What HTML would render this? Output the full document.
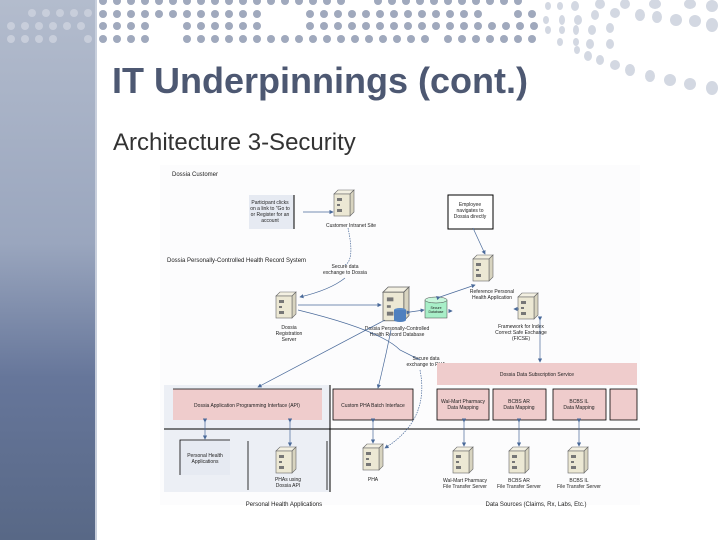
<!DOCTYPE html>
<html><head><meta charset="utf-8"><style>
html,body{margin:0;padding:0;width:720px;height:540px;overflow:hidden;background:#fff}
svg{display:block}
</style></head><body>
<svg width="720" height="540" viewBox="0 0 720 540" xmlns="http://www.w3.org/2000/svg" font-family="Liberation Sans, sans-serif">
<defs>
<linearGradient id="sb" x1="0" y1="0" x2="0" y2="1">
<stop offset="0" stop-color="#b3bccd"/><stop offset="0.45" stop-color="#9aa6be"/><stop offset="0.7" stop-color="#66769a"/><stop offset="1" stop-color="#586886"/>
</linearGradient>
<g id="srv">
<path d="M0 4 L4 0 L20 0 L16 4 Z" fill="#f3f0e2" stroke="#666" stroke-width="0.6"/>
<path d="M16 4 L20 0 L20 22 L16 26 Z" fill="#d8d4c0" stroke="#666" stroke-width="0.6"/>
<rect x="0" y="4" width="16" height="22" fill="#ece8d4" stroke="#666" stroke-width="0.6"/>
<rect x="3" y="8" width="5" height="3" fill="#777"/><rect x="3" y="14" width="3" height="2" fill="#777"/><rect x="3" y="19" width="5" height="3" fill="#777"/>
</g>
<marker id="ar" markerWidth="6" markerHeight="6" refX="5" refY="3" orient="auto"><path d="M0 0 L6 3 L0 6 Z" fill="#4a6a9a"/></marker>
</defs>
<rect x="0" y="0" width="95" height="540" fill="url(#sb)"/>
<rect x="95" y="0" width="2" height="540" fill="#c8cfdc"/>
<g fill="#c8cedb">
<circle cx="11" cy="26" r="4"/><circle cx="25" cy="26" r="4"/><circle cx="39" cy="26" r="4"/><circle cx="53" cy="26" r="4"/><circle cx="67" cy="26" r="4"/><circle cx="81" cy="26" r="4"/>
<circle cx="32" cy="13" r="4"/><circle cx="46" cy="13" r="4"/><circle cx="60" cy="13" r="4"/><circle cx="74" cy="13" r="4"/><circle cx="88" cy="13" r="4"/>
<circle cx="11" cy="39" r="4"/><circle cx="25" cy="39" r="4"/><circle cx="39" cy="39" r="4"/><circle cx="53" cy="39" r="4"/><circle cx="88" cy="39" r="4"/>
</g>
<g fill="#a0a9bd" id="dots"></g>
<g fill="#a0a9bd">
<!-- row 1 -->
<g>
<circle cx="103" cy="1" r="4"/><circle cx="117" cy="1" r="4"/><circle cx="131" cy="1" r="4"/><circle cx="145" cy="1" r="4"/><circle cx="159" cy="1" r="4"/><circle cx="173" cy="1" r="4"/><circle cx="187" cy="1" r="4"/><circle cx="201" cy="1" r="4"/><circle cx="215" cy="1" r="4"/><circle cx="229" cy="1" r="4"/><circle cx="243" cy="1" r="4"/><circle cx="257" cy="1" r="4"/><circle cx="271" cy="1" r="4"/><circle cx="285" cy="1" r="4"/><circle cx="299" cy="1" r="4"/><circle cx="313" cy="1" r="4"/><circle cx="327" cy="1" r="4"/><circle cx="341" cy="1" r="4"/>
<circle cx="378" cy="1" r="4"/><circle cx="392" cy="1" r="4"/><circle cx="406" cy="1" r="4"/><circle cx="420" cy="1" r="4"/><circle cx="434" cy="1" r="4"/><circle cx="448" cy="1" r="4"/><circle cx="462" cy="1" r="4"/><circle cx="476" cy="1" r="4"/><circle cx="490" cy="1" r="4"/><circle cx="504" cy="1" r="4"/><circle cx="518" cy="1" r="4"/>
</g>
<!-- row 14 -->
<g>
<circle cx="103" cy="14" r="4"/><circle cx="117" cy="14" r="4"/><circle cx="131" cy="14" r="4"/><circle cx="145" cy="14" r="4"/><circle cx="159" cy="14" r="4"/><circle cx="173" cy="14" r="4"/><circle cx="187" cy="14" r="4"/><circle cx="201" cy="14" r="4"/><circle cx="215" cy="14" r="4"/><circle cx="229" cy="14" r="4"/><circle cx="243" cy="14" r="4"/><circle cx="257" cy="14" r="4"/>
<circle cx="310" cy="14" r="4"/><circle cx="324" cy="14" r="4"/><circle cx="338" cy="14" r="4"/><circle cx="352" cy="14" r="4"/><circle cx="366" cy="14" r="4"/><circle cx="380" cy="14" r="4"/><circle cx="394" cy="14" r="4"/><circle cx="408" cy="14" r="4"/><circle cx="422" cy="14" r="4"/><circle cx="436" cy="14" r="4"/><circle cx="450" cy="14" r="4"/><circle cx="464" cy="14" r="4"/><circle cx="478" cy="14" r="4"/>
<circle cx="518" cy="14" r="4"/><circle cx="532" cy="14" r="4"/>
</g>
<!-- row 26 -->
<g>
<circle cx="103" cy="26" r="4"/><circle cx="117" cy="26" r="4"/><circle cx="131" cy="26" r="4"/><circle cx="145" cy="26" r="4"/>
<circle cx="187" cy="26" r="4"/><circle cx="201" cy="26" r="4"/><circle cx="215" cy="26" r="4"/><circle cx="229" cy="26" r="4"/><circle cx="243" cy="26" r="4"/><circle cx="257" cy="26" r="4"/>
<circle cx="310" cy="26" r="4"/><circle cx="324" cy="26" r="4"/><circle cx="338" cy="26" r="4"/><circle cx="352" cy="26" r="4"/><circle cx="366" cy="26" r="4"/><circle cx="380" cy="26" r="4"/><circle cx="394" cy="26" r="4"/><circle cx="408" cy="26" r="4"/><circle cx="422" cy="26" r="4"/><circle cx="436" cy="26" r="4"/><circle cx="450" cy="26" r="4"/><circle cx="464" cy="26" r="4"/><circle cx="478" cy="26" r="4"/><circle cx="492" cy="26" r="4"/><circle cx="506" cy="26" r="4"/><circle cx="520" cy="26" r="4"/><circle cx="534" cy="26" r="4"/>
</g>
<!-- row 39 -->
<g>
<circle cx="103" cy="39" r="4"/><circle cx="117" cy="39" r="4"/><circle cx="131" cy="39" r="4"/><circle cx="145" cy="39" r="4"/>
<circle cx="187" cy="39" r="4"/><circle cx="201" cy="39" r="4"/><circle cx="215" cy="39" r="4"/><circle cx="229" cy="39" r="4"/><circle cx="243" cy="39" r="4"/><circle cx="257" cy="39" r="4"/><circle cx="271" cy="39" r="4"/><circle cx="285" cy="39" r="4"/><circle cx="299" cy="39" r="4"/><circle cx="313" cy="39" r="4"/><circle cx="327" cy="39" r="4"/><circle cx="341" cy="39" r="4"/><circle cx="355" cy="39" r="4"/><circle cx="369" cy="39" r="4"/><circle cx="383" cy="39" r="4"/><circle cx="397" cy="39" r="4"/><circle cx="411" cy="39" r="4"/><circle cx="425" cy="39" r="4"/>
<circle cx="448" cy="39" r="4"/><circle cx="462" cy="39" r="4"/><circle cx="476" cy="39" r="4"/><circle cx="490" cy="39" r="4"/><circle cx="504" cy="39" r="4"/><circle cx="518" cy="39" r="4"/><circle cx="532" cy="39" r="4"/>
</g>
</g>
<g fill="#d3d8e2">
<ellipse cx="548" cy="6" rx="3" ry="4"/><ellipse cx="560" cy="6" rx="3" ry="4"/><ellipse cx="575" cy="6" rx="4" ry="5"/><ellipse cx="600" cy="4" rx="5" ry="5"/><ellipse cx="625" cy="4" rx="5" ry="5"/><ellipse cx="655" cy="4" rx="6" ry="5"/><ellipse cx="690" cy="4" rx="6" ry="5"/><ellipse cx="712" cy="6" rx="6" ry="6"/>
<ellipse cx="546" cy="20" rx="3" ry="4"/><ellipse cx="562" cy="20" rx="3" ry="5"/><ellipse cx="578" cy="20" rx="4" ry="5"/><ellipse cx="595" cy="15" rx="4" ry="5"/><ellipse cx="615" cy="13" rx="5" ry="5"/><ellipse cx="640" cy="15" rx="5" ry="6"/><ellipse cx="657" cy="17" rx="5" ry="6"/><ellipse cx="676" cy="20" rx="6" ry="6"/><ellipse cx="695" cy="21" rx="6" ry="6"/><ellipse cx="712" cy="25" rx="6" ry="7"/>
<ellipse cx="548" cy="30" rx="3" ry="4"/><ellipse cx="562" cy="30" rx="3" ry="4"/><ellipse cx="576" cy="30" rx="3" ry="5"/><ellipse cx="592" cy="30" rx="4" ry="5"/><ellipse cx="610" cy="28" rx="4" ry="5"/>
<ellipse cx="560" cy="42" rx="3" ry="4"/><ellipse cx="576" cy="42" rx="3" ry="4"/><ellipse cx="590" cy="44" rx="4" ry="5"/><ellipse cx="610" cy="44" rx="4" ry="5"/>
<ellipse cx="577" cy="50" rx="3" ry="4"/><ellipse cx="588" cy="56" rx="4" ry="5"/><ellipse cx="600" cy="60" rx="4" ry="5"/><ellipse cx="615" cy="65" rx="5" ry="5"/><ellipse cx="630" cy="70" rx="5" ry="6"/><ellipse cx="650" cy="76" rx="5" ry="6"/><ellipse cx="670" cy="80" rx="6" ry="6"/><ellipse cx="690" cy="84" rx="6" ry="6"/><ellipse cx="712" cy="88" rx="6" ry="7"/>
</g>
<text x="112" y="93" font-size="36" font-weight="bold" fill="#4d5872">IT Underpinnings (cont.)</text>
<text x="113" y="150" font-size="24" fill="#333">Architecture 3-Security</text>

<!-- diagram -->
<rect x="160" y="165" width="480" height="340" fill="#fcfcfd"/>
<g font-size="5" fill="#222" text-anchor="middle">
<text x="172" y="176" font-size="6" text-anchor="start">Dossia Customer</text>
<rect x="249" y="195" width="45" height="34" fill="#e6eaf2"/><line x1="294" y1="195" x2="294" y2="229" stroke="#000" stroke-width="1"/>
<text x="270" y="204">Participant clicks</text><text x="270" y="210">on a link to "Go to</text><text x="270" y="216">or Register for an</text><text x="270" y="222">account</text>
<line x1="303" y1="212" x2="333" y2="212" stroke="#4a6a9a" stroke-width="0.7" marker-end="url(#ar)"/>
<use href="#srv" x="334" y="190"/>
<text x="351" y="227">Customer Intranet Site</text>
<rect x="448" y="195" width="45" height="34" fill="#fff" stroke="#000" stroke-width="1"/>
<text x="470" y="206">Employee</text><text x="470" y="212">navigates to</text><text x="470" y="218">Dossia directly</text>
<text x="167" y="262" font-size="6" text-anchor="start">Dossia Personally-Controlled Health Record System</text>
<text x="345" y="268">Secure data</text><text x="345" y="274">exchange to Dossia</text>
<use href="#srv" x="473" y="255"/>
<text x="492" y="293">Reference Personal</text><text x="492" y="299">Health Application</text>
<use href="#srv" x="276" y="292"/>
<text x="289" y="329">Dossia</text><text x="289" y="335">Registration</text><text x="289" y="341">Server</text>
<g transform="translate(383,287) scale(1.3)"><use href="#srv"/></g>
<ellipse cx="400" cy="310" rx="6" ry="2" fill="#5b8cc8"/><rect x="394" y="310" width="12" height="10" fill="#4f80bf"/><ellipse cx="400" cy="320" rx="6" ry="2" fill="#4f80bf"/>
<rect x="425" y="300" width="22" height="18" fill="#a8efc8" stroke="#444" stroke-width="0.5"/><ellipse cx="436" cy="300" rx="11" ry="3" fill="#c8f7dc" stroke="#444" stroke-width="0.5"/>
<text x="436" y="309" font-size="3.5">Secure</text><text x="436" y="313" font-size="3.5">Database</text>
<text x="397" y="330">Dossia Personally-Controlled</text><text x="397" y="336">Health Record Database</text>
<use href="#srv" x="518" y="293"/>
<text x="521" y="328">Framework for Index</text><text x="521" y="334">Correct Safe Exchange</text><text x="521" y="340">(FICSE)</text>
<text x="426" y="360">Secure data</text><text x="426" y="366">exchange to PHA</text>
<rect x="437" y="363" width="200" height="22" fill="#efcccc"/>
<text x="537" y="376">Dossia Data Subscription Service</text>
<rect x="164" y="385" width="166" height="107" fill="#eceff5"/>
<rect x="173" y="389" width="149" height="31" fill="#efcccc"/><line x1="173" y1="389" x2="322" y2="389" stroke="#000" stroke-width="0.8"/>
<text x="247" y="407">Dossia Application Programming Interface (API)</text>
<rect x="333" y="389" width="80" height="31" fill="#efcccc" stroke="#000" stroke-width="0.8"/>
<text x="373" y="407">Custom PHA Batch Interface</text>
<rect x="437" y="389" width="52" height="31" fill="#efcccc" stroke="#000" stroke-width="0.8"/>
<text x="463" y="403">Wal-Mart Pharmacy</text><text x="463" y="409">Data Mapping</text>
<rect x="493" y="389" width="53" height="31" fill="#efcccc" stroke="#000" stroke-width="0.8"/>
<text x="519" y="403">BCBS AR</text><text x="519" y="409">Data Mapping</text>
<rect x="553" y="389" width="53" height="31" fill="#efcccc" stroke="#000" stroke-width="0.8"/>
<text x="579" y="403">BCBS IL</text><text x="579" y="409">Data Mapping</text>
<rect x="610" y="389" width="27" height="31" fill="#efcccc" stroke="#000" stroke-width="0.8"/>
<line x1="164" y1="429" x2="640" y2="429" stroke="#000" stroke-width="1"/>
<line x1="330" y1="385" x2="330" y2="492" stroke="#000" stroke-width="1"/>
<rect x="180" y="440" width="50" height="35" fill="#e6eaf2"/>
<path d="M180 475 V440 H230" fill="none" stroke="#000" stroke-width="0.8"/>
<text x="205" y="457">Personal Health</text><text x="205" y="463">Applications</text>
<line x1="248" y1="441" x2="248" y2="490" stroke="#000" stroke-width="0.8"/>
<line x1="327" y1="441" x2="327" y2="490" stroke="#000" stroke-width="0.8"/>
<use href="#srv" x="276" y="447"/>
<text x="288" y="481">PHAs using</text><text x="288" y="487">Dossia API</text>
<use href="#srv" x="363" y="444"/>
<text x="373" y="481">PHA</text>
<use href="#srv" x="453" y="447"/><text x="465" y="482">Wal-Mart Pharmacy</text><text x="465" y="488">File Transfer Server</text>
<use href="#srv" x="509" y="447"/><text x="519" y="482">BCBS AR</text><text x="519" y="488">File Transfer Server</text>
<use href="#srv" x="568" y="447"/><text x="579" y="482">BCBS IL</text><text x="579" y="488">File Transfer Server</text>
<text x="284" y="506" font-size="6">Personal Health Applications</text>
<text x="536" y="506" font-size="6">Data Sources (Claims, Rx, Labs, Etc.)</text>
</g>
<g fill="none" stroke="#4a6a9a" stroke-width="0.7">
<path d="M348 228 Q355 260 345 265" stroke-dasharray="1.5,1"/>
<path d="M345 278 Q330 290 300 297" marker-end="url(#ar)"/>
<path d="M473 228 L485 254" marker-end="url(#ar)"/>
<path d="M298 305 L381 305" marker-end="url(#ar)"/>
<path d="M298 310 Q380 330 400 350 Q420 360 420 360"/>
<path d="M410 312 L424 310" marker-start="url(#ar)" marker-end="url(#ar)"/>
<path d="M440 297 L475 285" marker-start="url(#ar)" marker-end="url(#ar)"/>
<path d="M449 311 L452 311" marker-end="url(#ar)"/>
<path d="M519 309 L514 309" marker-end="url(#ar)"/>
<path d="M540 320 L540 362" marker-start="url(#ar)" marker-end="url(#ar)"/>
<path d="M385 320 L258 387" marker-end="url(#ar)"/>
<path d="M391 330 Q385 360 378 388" marker-end="url(#ar)"/>
<path d="M420 370 Q430 420 385 448" stroke-dasharray="1.5,1" marker-end="url(#ar)"/>
<path d="M205 422 L205 439" marker-start="url(#ar)" marker-end="url(#ar)"/>
<path d="M290 422 L290 446" marker-start="url(#ar)" marker-end="url(#ar)"/>
<path d="M373 422 L373 443" marker-start="url(#ar)" marker-end="url(#ar)"/>
<path d="M464 422 L464 446" marker-start="url(#ar)" marker-end="url(#ar)"/>
<path d="M519 422 L519 446" marker-start="url(#ar)" marker-end="url(#ar)"/>
<path d="M579 422 L579 446" marker-start="url(#ar)" marker-end="url(#ar)"/>
</g>
</svg>
</body></html>
